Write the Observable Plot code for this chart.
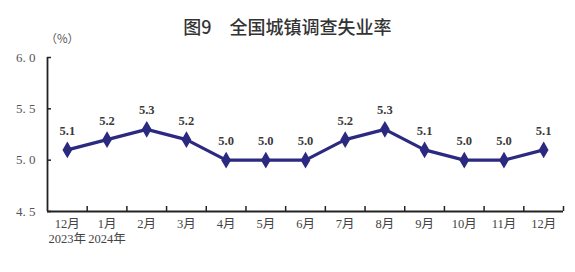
<!DOCTYPE html>
<html>
<head>
<meta charset="utf-8">
<script src="https://cdn.jsdelivr.net/npm/d3@7"></script>
<script src="https://cdn.jsdelivr.net/npm/@observablehq/plot@0.6"></script>
<style>
  body { margin: 0; background: #fff; }
  #wrap { position: relative; width: 575px; height: 272px; }
  #title { position: absolute; top: 14px; left: 0; width: 575px; text-align: center;
    font-family: "Noto Sans CJK SC", sans-serif; font-size: 18px; line-height: 24px; color: #333; font-weight: 500; }
  #chart { position: absolute; top: 0; left: 0; }
</style>
</head>
<body>
<div id="wrap">
  <div id="title">图9　全国城镇调查失业率</div>
  <div id="chart"></div>
</div>
<script>
const title = "图9　全国城镇调查失业率";
const months = ["12月","1月","2月","3月","4月","5月","6月","7月","8月","9月","10月","11月","12月"];
const years = ["2023年","2024年"];
const rates = [5.1, 5.2, 5.3, 5.2, 5.0, 5.0, 5.0, 5.2, 5.3, 5.1, 5.0, 5.0, 5.1];
const yTicks = [4.5, 5.0, 5.5, 6.0];
const unitLabel = "（%）";

const data = months.map((m, i) => ({idx: i + 0.5, month: m, rate: rates[i]}));
const yearData = years.map((y, i) => ({idx: i + 0.5, year: y}));
const boundaries = months.map((m, i) => i + 1);

const serif = "'Liberation Serif', 'DejaVu Serif', 'Noto Sans CJK SC', serif";
const lineColor = "#2b2a80";

const chart = Plot.plot({
  width: 575,
  height: 272,
  marginTop: 57,
  marginBottom: 61,
  marginLeft: 47,
  marginRight: 12,
  style: {background: "transparent", fontFamily: serif},
  x: {domain: [0, months.length], axis: null},
  y: {domain: [yTicks[0], yTicks[yTicks.length - 1]], axis: null},
  marks: [
    Plot.axisY({ticks: yTicks, tickSize: 0, tickPadding: 12, tickFormat: d => d.toFixed(1).replace(".", ". "),
      fontSize: 13, color: "#555", label: null}),
    Plot.axisY({ticks: yTicks, tickSize: -4, tickFormat: () => "", label: null, stroke: "#222", strokeWidth: 1.5}),
    Plot.axisX({ticks: boundaries, tickSize: -5, tickFormat: () => "", label: null, stroke: "#222", strokeWidth: 1.5}),
    Plot.ruleX([0], {stroke: "#222", strokeWidth: 1.8}),
    Plot.ruleY([yTicks[0]], {stroke: "#222", strokeWidth: 1.8}),
    Plot.text([unitLabel], {frameAnchor: "top-left", dy: -23, dx: -2, fontSize: 11.5, fill: "#555",
      fontFamily: "'Noto Sans CJK SC', sans-serif"}),
    Plot.line(data, {x: "idx", y: "rate", stroke: lineColor, strokeWidth: 3.2, curve: "linear"}),
    Plot.dot(data, {x: "idx", y: "rate", symbol: "diamond", r: 4.2, fill: lineColor, stroke: lineColor}),
    Plot.text(data, {x: "idx", y: "rate", text: d => d.rate.toFixed(1), dy: -19, fontSize: 12.5,
      fontWeight: "bold", fill: "#3a3a3a"}),
    Plot.text(data, {x: "idx", text: "month", frameAnchor: "bottom", dy: 16, fontSize: 12.5, fill: "#444"}),
    Plot.text(yearData, {x: "idx", text: "year", frameAnchor: "bottom", dy: 31, fontSize: 12.5, fill: "#444"})
  ]
});
document.getElementById("chart").appendChild(chart);
</script>
</body>
</html>
